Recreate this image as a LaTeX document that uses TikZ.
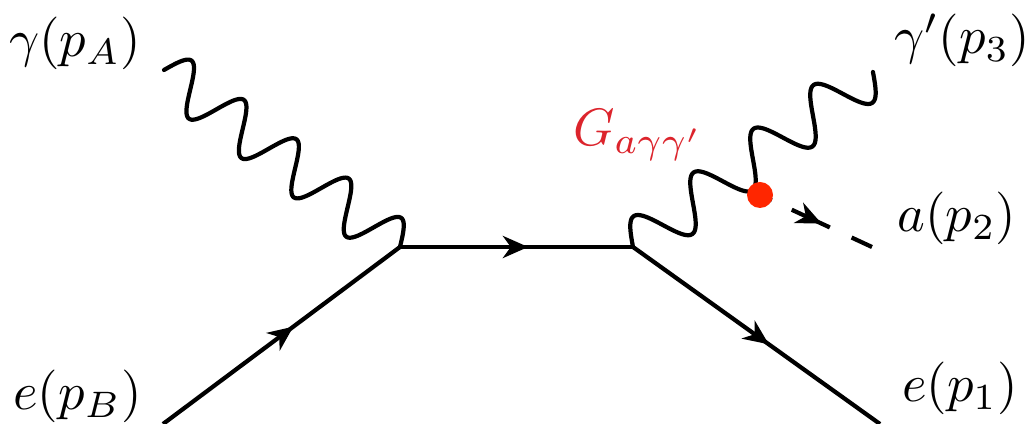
\documentclass[tikz,border=0pt]{standalone}
\usetikzlibrary{arrows.meta,decorations.markings,calc}
\definecolor{labelred}{RGB}{220,36,44}
\definecolor{dotred}{RGB}{255,38,0}
\tikzset{
  x=0.19pt,y=0.19pt,
  line/.style={line width=0.8pt,black},
  fermion/.style={line,postaction={decorate},decoration={markings,
      mark=at position 0.55 with {\arrow{Stealth[length=4.8pt,width=4.2pt,inset=1.5pt]}}}},
  photonline/.style={line,line cap=round},
  scalar/.style={line,dash pattern=on 2.47pt off 4.18pt on 7.98pt off 4.56pt on 6pt,
      postaction={decorate},decoration={markings,
      mark=at position 0.55 with {\arrow{Stealth[length=4.8pt,width=4.2pt,inset=1.5pt]}}}},
  lab/.style={inner sep=0pt,font=\fontsize{10}{12}\selectfont},
}
\begin{document}
\begin{tikzpicture}
\useasboundingbox (0,0) rectangle (1034,424);
% vertices and ends
\coordinate (S) at (164,354);
\coordinate (V1) at (400,177);
\coordinate (V2) at (633,177);
\coordinate (B) at (163,0);
\coordinate (P1) at (880,0);
\coordinate (P3) at (873,352);
\coordinate (V3) at (760,229);
\coordinate (P2) at (872,177);
% fermions
\draw[fermion] (B) -- (V1);
\draw[fermion] (V1) -- (V2);
\draw[fermion] (V2) -- (P1);
% incoming photon S -> V1
\begin{scope}[shift={(S)},rotate=-36.87]
\draw[photonline] plot[domain=0:295,samples=240,smooth] (\x,{24*sin(5.4915*\x)});
\end{scope}
% outgoing photon V2 -> P3
\begin{scope}[shift={(V2)},rotate=36.1]
\draw[photonline] plot[domain=0:297,samples=240,smooth] (\x,{24.5*sin(4.8485*\x)});
\end{scope}
% axion
\draw[scalar] (V3) -- (P2);
\fill[dotred] (V3) circle (13);
% labels
\node[lab] (lA) at (75,380.5) {$\gamma(p_A)$};
\node[lab] (lB) at (77.5,28) {$e(p_B)$};
\node[lab] (l3) at (962,384) {$\gamma'(p_3)$};
\node[lab] (l2) at (957,206) {$a(p_2)$};
\node[lab] (l1) at (960,36) {$e(p_1)$};
\node[lab,text=labelred,anchor=base west] (lG) at (572,278) {$G_{a\gamma\gamma'}$};
\end{tikzpicture}
\end{document}
